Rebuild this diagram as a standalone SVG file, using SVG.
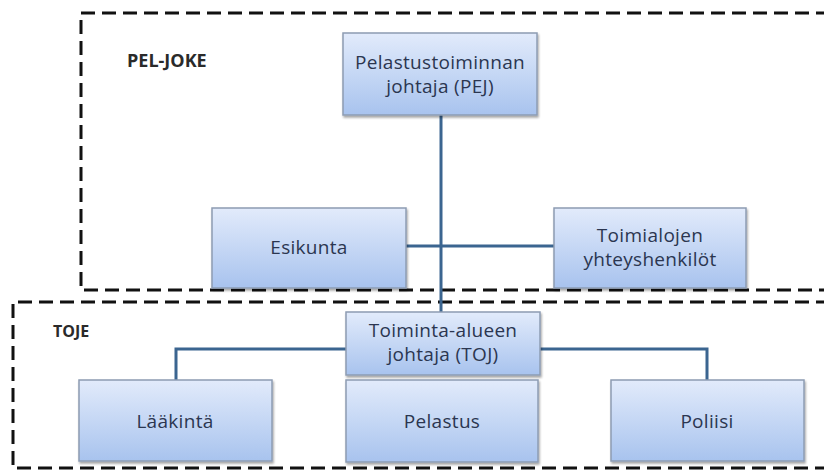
<svg xmlns="http://www.w3.org/2000/svg" width="824" height="470" viewBox="0 0 824 470">
<defs>
<linearGradient id="g" x1="0" y1="0" x2="0" y2="1">
<stop offset="0" stop-color="#e2ebfb"/>
<stop offset="1" stop-color="#a8c3ee"/>
</linearGradient>
<filter id="sh" x="-10%" y="-10%" width="130%" height="140%">
<feDropShadow dx="1" dy="2" stdDeviation="1.2" flood-color="#000" flood-opacity="0.35"/>
</filter>
</defs>
<style>
.box{fill:url(#g);stroke:#8d9cb3;stroke-width:1.5;filter:url(#sh)}
.t{font-family:"Open Sans","Liberation Sans",sans-serif;font-size:19px;font-weight:500;fill:#2b3650;text-anchor:middle;letter-spacing:0.3px}
.lbl{font-family:"Open Sans","Liberation Sans",sans-serif;font-weight:bold;fill:#2a2a2a}
.dash{fill:none;stroke:#111;stroke-width:3;stroke-dasharray:14 7}
.c{fill:none;stroke:#3b6590;stroke-width:3}
</style>
<rect width="824" height="470" fill="#fff"/>
<g id="areas">
<path class="dash" d="M830 13 H81 V290 H830"/>
<path class="dash" d="M830 302 H13 V468 H830"/>
<text class="lbl" x="127" y="67" font-size="18">PEL-JOKE</text>
<text class="lbl" x="53" y="337" font-size="16">TOJE</text>
</g>
<g id="connectors">
<path class="c" d="M441 115 V312"/>
<path class="c" d="M406 246 H554"/>
<path class="c" d="M346 349 H176 V380"/>
<path class="c" d="M540 349 H707 V380"/>
</g>
<g id="pej">
<rect class="box" x="343" y="33" width="194" height="82"/>
<text class="t" x="440" y="69">Pelastustoiminnan</text>
<text class="t" x="440" y="93">johtaja (PEJ)</text>
</g>
<g id="esikunta">
<rect class="box" x="212" y="208" width="194" height="80"/>
<text class="t" x="309" y="254">Esikunta</text>
</g>
<g id="toimialojen">
<rect class="box" x="554" y="208" width="192" height="80"/>
<text class="t" x="650" y="242">Toimialojen</text>
<text class="t" x="650" y="266">yhteyshenkilöt</text>
</g>
<g id="toj">
<rect class="box" x="346" y="312" width="194" height="63"/>
<text class="t" x="443" y="337">Toiminta-alueen</text>
<text class="t" x="443" y="361">johtaja (TOJ)</text>
</g>
<g id="laakinta">
<rect class="box" x="79" y="380" width="193" height="81"/>
<text class="t" x="175" y="428">Lääkintä</text>
</g>
<g id="pelastus">
<rect class="box" x="346" y="380" width="192" height="82"/>
<text class="t" x="442" y="428">Pelastus</text>
</g>
<g id="poliisi">
<rect class="box" x="611" y="380" width="193" height="81"/>
<text class="t" x="707" y="428">Poliisi</text>
</g>
</svg>
